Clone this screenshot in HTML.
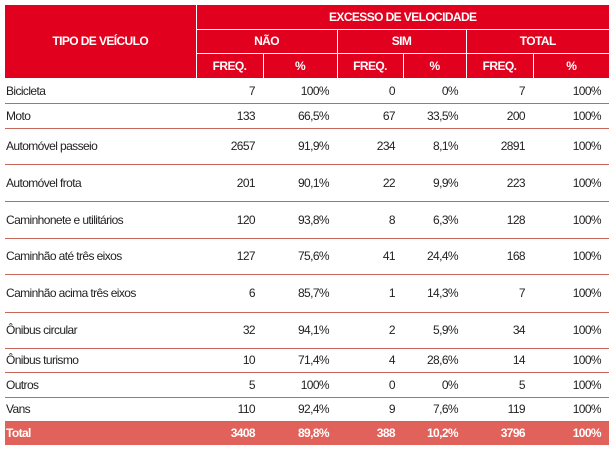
<!DOCTYPE html>
<html><head><meta charset="utf-8"><style>
body{margin:0;width:614px;height:454px;background:#fff;overflow:hidden;font-family:"Liberation Sans",sans-serif;}
table{position:absolute;left:5px;top:5px;border-collapse:collapse;table-layout:fixed;width:604px;}
td,th{padding:0;font-size:12px;letter-spacing:-0.6px;color:#222;white-space:nowrap;}
th{background:#e1001d;color:#fff;font-weight:bold;border:1px solid #fff;font-size:12px;text-align:center;}
tr.h th{border-top:none}
th:first-child{border-left:none}
th:last-child{border-right:none}
td{border-bottom:1px solid #c9665c;text-align:right;padding-right:8px;}
td:first-child{text-align:left;padding-left:1px;padding-right:0}
tr.total td{background:#e0625a;color:#fff;font-weight:bold;border-bottom:none;}
</style></head><body>
<table>
<colgroup><col style="width:191px"><col style="width:67px"><col style="width:74px"><col style="width:66px"><col style="width:63px"><col style="width:67px"><col style="width:76px"></colgroup>
<tr class="h" style="height:24px"><th rowspan="3">TIPO DE VEÍCULO</th><th colspan="6">EXCESSO DE VELOCIDADE</th></tr>
<tr style="height:24px"><th colspan="2">NÃO</th><th colspan="2">SIM</th><th colspan="2">TOTAL</th></tr>
<tr style="height:25px"><th>FREQ.</th><th>%</th><th>FREQ.</th><th>%</th><th>FREQ.</th><th>%</th></tr>
<tr style="height:25px"><td>Bicicleta</td><td>7</td><td>100%</td><td>0</td><td>0%</td><td>7</td><td>100%</td></tr>
<tr style="height:25px"><td>Moto</td><td>133</td><td>66,5%</td><td>67</td><td>33,5%</td><td>200</td><td>100%</td></tr>
<tr style="height:36px"><td>Automóvel passeio</td><td>2657</td><td>91,9%</td><td>234</td><td>8,1%</td><td>2891</td><td>100%</td></tr>
<tr style="height:37px"><td>Automóvel frota</td><td>201</td><td>90,1%</td><td>22</td><td>9,9%</td><td>223</td><td>100%</td></tr>
<tr style="height:37px"><td>Caminhonete e utilitários</td><td>120</td><td>93,8%</td><td>8</td><td>6,3%</td><td>128</td><td>100%</td></tr>
<tr style="height:36px"><td>Caminhão até três eixos</td><td>127</td><td>75,6%</td><td>41</td><td>24,4%</td><td>168</td><td>100%</td></tr>
<tr style="height:38px"><td>Caminhão acima três eixos</td><td>6</td><td>85,7%</td><td>1</td><td>14,3%</td><td>7</td><td>100%</td></tr>
<tr style="height:36px"><td>Ônibus circular</td><td>32</td><td>94,1%</td><td>2</td><td>5,9%</td><td>34</td><td>100%</td></tr>
<tr style="height:24px"><td>Ônibus turismo</td><td>10</td><td>71,4%</td><td>4</td><td>28,6%</td><td>14</td><td>100%</td></tr>
<tr style="height:25px"><td>Outros</td><td>5</td><td>100%</td><td>0</td><td>0%</td><td>5</td><td>100%</td></tr>
<tr style="height:24px"><td>Vans</td><td>110</td><td>92,4%</td><td>9</td><td>7,6%</td><td>119</td><td>100%</td></tr>
<tr class="total" style="height:24px"><td>Total</td><td>3408</td><td>89,8%</td><td>388</td><td>10,2%</td><td>3796</td><td>100%</td></tr>
</table>
</body></html>
